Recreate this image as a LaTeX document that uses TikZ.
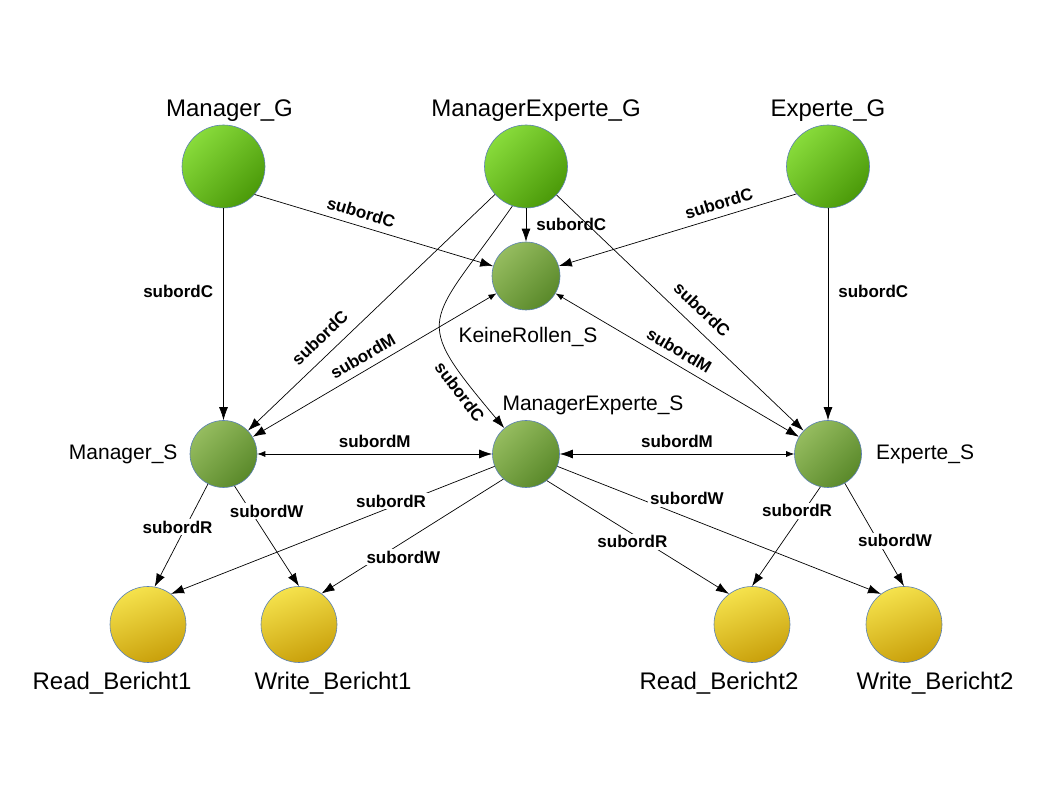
\documentclass[tikz,border=0pt]{standalone}
\usepackage{fontspec}
\setmainfont{Liberation Sans}
\usetikzlibrary{arrows.meta,positioning}

\definecolor{gLight}{HTML}{88DB3B}
\definecolor{gDark}{HTML}{4B9A09}
\definecolor{sLight}{HTML}{95BC5F}
\definecolor{sDark}{HTML}{5A892A}
\definecolor{yLight}{HTML}{F5E24C}
\definecolor{yDark}{HTML}{C9A00B}
\definecolor{rim}{HTML}{5B80B2}

\begin{document}
\begin{tikzpicture}[x=1pt,y=1pt,
    grp/.style={circle, draw=rim, line width=0.6pt, inner sep=0pt, minimum size=83pt,
      top color=gLight, bottom color=gDark, shading angle=45},
    ses/.style={circle, draw=rim, line width=0.6pt, inner sep=0pt, minimum size=67pt,
      top color=sLight, bottom color=sDark, shading angle=45},
    obj/.style={circle, draw=rim, line width=0.6pt, inner sep=0pt, minimum size=76pt,
      top color=yLight, bottom color=yDark, shading angle=20},
    bigname/.style={font=\fontsize{24}{28}\selectfont, inner sep=0pt},
    midname/.style={font=\fontsize{21}{25}\selectfont, inner sep=0pt},
    lbl/.style={font=\fontsize{17}{20}\selectfont\bfseries, fill=white, inner sep=2pt},
    arr/.style={line width=0.7pt, -{Latex[length=13pt,width=9pt]}},
    biarr/.style={line width=0.7pt, {Latex[length=8pt,width=6pt]}-{Latex[length=13pt,width=9pt]}}]
  \useasboundingbox (0,0) rectangle (1058,794);

  % groups
  \node[grp] (mG) at (223.5,627.5) {};
  \node[grp] (meG) at (526,627.5) {};
  \node[grp] (eG) at (828,627.5) {};
  \node[bigname, above=3pt of mG, xshift=6pt] (mGname) {Manager\_G};
  \node[bigname, above=3pt of meG, xshift=10pt] (meGname) {ManagerExperte\_G};
  \node[bigname, above=3pt of eG] (eGname) {Experte\_G};

  % subjects
  \node[ses, minimum size=68pt] (kS) at (526,518) {};
  \node[ses] (mS) at (223.5,340) {};
  \node[ses] (meS) at (526,340) {};
  \node[ses] (eS) at (828,340) {};
  \node[midname, below=17pt of kS, xshift=2pt] (kSname) {KeineRollen\_S};
  \node[midname, left=12pt of mS] (mSname) {Manager\_S};
  \node[midname, above=5.5pt of meS, xshift=67pt] (meSname) {ManagerExperte\_S};
  \node[midname, right=14pt of eS] (eSname) {Experte\_S};

  % objects
  \node[obj] (r1) at (148,169.5) {};
  \node[obj] (w1) at (299,169.5) {};
  \node[obj] (r2) at (752,169.5) {};
  \node[obj] (w2) at (904,169.5) {};
  \node[bigname, below=9.5pt of r1, xshift=-36pt] (r1name) {Read\_Bericht1};
  \node[bigname, below=9.5pt of w1, xshift=34pt] (w1name) {Write\_Bericht1};
  \node[bigname, below=9.5pt of r2, xshift=-33pt] (r2name) {Read\_Bericht2};
  \node[bigname, below=9.5pt of w2, xshift=31pt] (w2name) {Write\_Bericht2};

  % subordC
  \draw[arr] (mG) -- node[lbl, pos=0.39, left=8pt] {subordC} (mS);
  \draw[arr] (mG.-42) -- node[lbl, pos=0.43, sloped, above=5pt] {subordC} (kS);
  \draw[arr] (meG) -- node[lbl, pos=0.48, right=8pt] {subordC} (kS);
  \draw[arr] (meG.222) -- node[lbl, pos=0.66, sloped, above=9pt] {subordC} (mS);
  \draw[arr] (meG.-109) to[out=235, in=130, looseness=1.7]
    node[lbl, pos=0.85, sloped, below=3pt] {subordC} (meS);
  \draw[arr] (meG.-43) -- node[lbl, pos=0.54, sloped, above=9pt] {subordC} (eS);
  \draw[arr] (eG.-139) -- node[lbl, pos=0.31, sloped, above=5pt] {subordC} (kS);
  \draw[arr] (eG) -- node[lbl, pos=0.39, right=8pt] {subordC} (eS);

  % subordM
  \draw[biarr] (kS) -- node[lbl, pos=0.52, sloped, above=5pt] {subordM} (mS);
  \draw[biarr] (kS) -- node[lbl, pos=0.48, sloped, above=5pt] {subordM} (eS);
  \draw[biarr] (mS) -- node[lbl, above=4pt] {subordM} (meS);
  \draw[biarr] (eS) -- node[lbl, above=4pt] {subordM} (meS);

  % subordR / subordW
  \draw[arr] (mS) -- node[lbl, pos=0.42, xshift=-8pt] {subordR} (r1.80);
  \draw[arr] (mS.-71) -- node[lbl, pos=0.25, xshift=16pt] {subordW} (w1.north);
  \draw[arr] (meS) -- node[lbl, pos=0.32, yshift=6pt] {subordR} (r1.53);
  \draw[arr] (meS.228) -- node[lbl, pos=0.55, yshift=-15pt] {subordW} (w1.54);
  \draw[arr] (meS.-52) -- node[lbl, pos=0.47, yshift=-8pt] {subordR} (r2.127);
  \draw[arr] (meS) -- node[lbl, pos=0.4, yshift=19pt] {subordW} (w2.127);
  \draw[arr] (eS.-103) -- node[lbl, pos=0.24, xshift=-7pt] {subordR} (r2.north);
  \draw[arr] (eS) -- node[lbl, pos=0.56, xshift=17pt] {subordW} (w2.north);
\end{tikzpicture}
\end{document}
